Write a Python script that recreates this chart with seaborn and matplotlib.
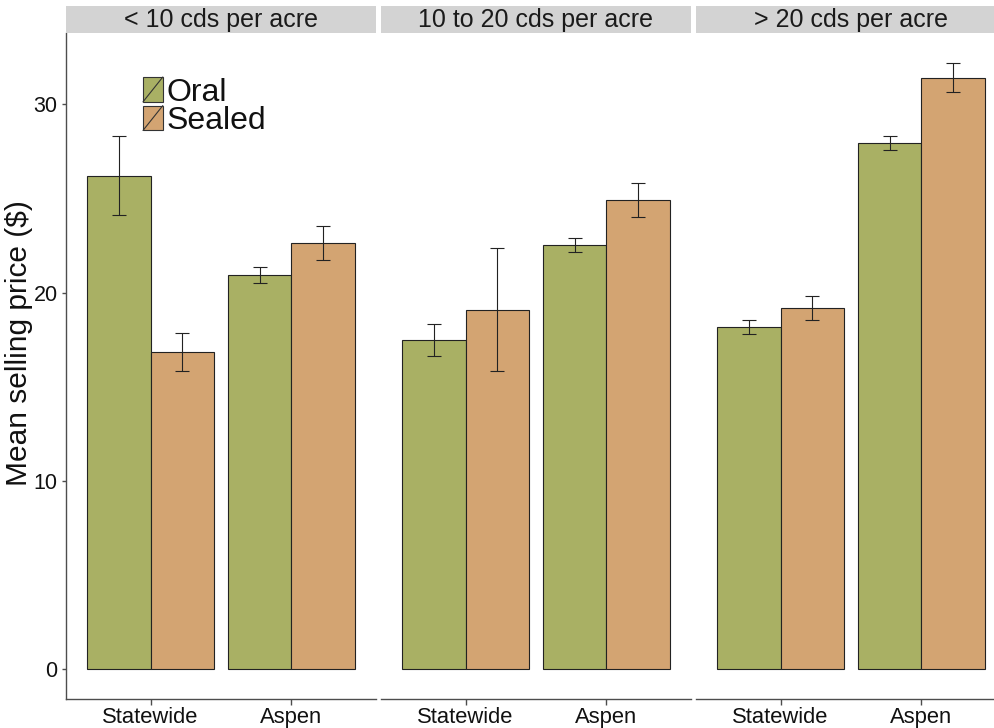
import matplotlib
matplotlib.use("Agg")
import matplotlib.pyplot as plt
import numpy as np
import pandas as pd
import seaborn as sns
from matplotlib.legend_handler import HandlerBase
from matplotlib.patches import Rectangle, Patch
from matplotlib.lines import Line2D

# Facets, categories and series
densities = ["< 10 cds per acre", "10 to 20 cds per acre", "> 20 cds per acre"]
sites = ["Statewide", "Aspen"]
methods = ["Oral", "Sealed"]

# Mean selling price ($) and standard error, ordered density -> site
oral_mean = [26.2, 20.95, 17.47, 22.55, 18.17, 27.97]
oral_se = [2.1, 0.42, 0.85, 0.38, 0.37, 0.38]
sealed_mean = [16.85, 22.65, 19.1, 24.93, 19.18, 31.42]
sealed_se = [1.0, 0.9, 3.25, 0.9, 0.62, 0.77]

y_ticks = [0, 10, 20, 30]

rows = []
for i, dens in enumerate(densities):
    for j, site in enumerate(sites):
        k = i * len(sites) + j
        rows.append((dens, site, "Oral", oral_mean[k], oral_se[k]))
        rows.append((dens, site, "Sealed", sealed_mean[k], sealed_se[k]))
df = pd.DataFrame(rows, columns=["density", "site", "method", "price", "se"])

palette = {"Oral": "#a9b064", "Sealed": "#d3a472"}
FONT = ["Liberation Sans", "DejaVu Sans"]

sns.set_theme(style="white")
plt.rcParams["font.family"] = FONT

fig = plt.figure(figsize=(9.94, 7.28), dpi=100)
W, H = 994.0, 728.0
panel_left = [66, 381, 696]
panel_w = 310
y_top, y_bot = 33, 699
strip_h = 27

axis_col = "#4d4d4d"
text_col = "#111111"

for i, dens in enumerate(densities):
    l = panel_left[i] / W
    ax = fig.add_axes([l, 1 - y_bot / H, panel_w / W, (y_bot - y_top) / H])
    sub = df[df["density"] == dens]
    sns.barplot(data=sub, x="site", y="price", hue="method", order=sites,
                hue_order=methods, palette=palette, saturation=1,
                width=0.9, gap=0, edgecolor="#222222", linewidth=0.8,
                errorbar=None, legend=False, ax=ax)
    # error bars at each bar centre
    for cont, m in zip(ax.containers, methods):
        for patch, site in zip(cont.patches, sites):
            r = sub[(sub["site"] == site) & (sub["method"] == m)].iloc[0]
            xc = patch.get_x() + patch.get_width() / 2
            ax.errorbar(xc, r["price"], yerr=r["se"], fmt="none",
                        ecolor="#222222", elinewidth=0.8, capsize=5,
                        capthick=0.8, zorder=5)
    ax.set_xlim(-0.6, 1.6)
    ax.set_ylim(-1.6, 33.8)
    ax.set_xlabel("")
    ax.set_facecolor("white")
    for s in ["top", "right"]:
        ax.spines[s].set_visible(False)
    ax.spines["bottom"].set_color(axis_col)
    ax.spines["bottom"].set_linewidth(1.0)
    ax.tick_params(axis="x", bottom=True, length=4, width=1, color=axis_col,
                   labelsize=15.8, pad=2, labelcolor=text_col)
    if i == 0:
        ax.spines["left"].set_color(axis_col)
        ax.spines["left"].set_linewidth(1.0)
        ax.set_yticks(y_ticks)
        ax.tick_params(axis="y", left=True, length=3, width=1, color=axis_col,
                       labelsize=15.5, pad=3, labelcolor=text_col)
        ax.set_ylabel("Mean selling price ($)", fontsize=21.5,
                      color=text_col)
        ax.yaxis.set_label_coords((33 - 66) / panel_w,
                                  (y_bot - 343) / (y_bot - y_top))
    else:
        ax.spines["left"].set_visible(False)
        ax.set_yticks(y_ticks)
        ax.tick_params(axis="y", left=False, labelleft=False)
        ax.set_ylabel("")

    # facet strip
    sax = fig.add_axes([l, 1 - y_top / H, panel_w / W, strip_h / H])
    sax.set_facecolor("#d3d3d3")
    sax.set_xticks([])
    sax.set_yticks([])
    for s in sax.spines.values():
        s.set_visible(False)
    sax.text(0.5, 0.47, dens, ha="center", va="center", fontsize=18,
             color="#1a1a1a", transform=sax.transAxes)

    if i == 0:
        legend_ax = ax


class SlashKey(HandlerBase):
    def create_artists(self, legend, orig_handle, xdescent, ydescent,
                       width, height, fontsize, trans):
        x0, y0 = -xdescent, -ydescent
        rect = Rectangle((x0, y0), width, height,
                         facecolor=orig_handle.get_facecolor(),
                         edgecolor="#333333", lw=0.8, transform=trans)
        diag = Line2D([x0, x0 + width], [y0, y0 + height], color="#333333",
                      lw=0.8, transform=trans)
        return [rect, diag]


handles = [Patch(facecolor=palette[m]) for m in methods]
leg = legend_ax.legend(handles, methods, loc="upper left",
                       bbox_to_anchor=(143 / W, 1 - 77 / H),
                       bbox_transform=fig.transFigure, frameon=False,
                       fontsize=23, handlelength=0.62, handleheight=0.82,
                       handletextpad=0.12, labelspacing=-0.06, borderpad=0,
                       borderaxespad=0,
                       handler_map={Patch: SlashKey()})
for t in leg.get_texts():
    t.set_color(text_col)

fig.savefig("out.png", dpi=100, facecolor="white")
